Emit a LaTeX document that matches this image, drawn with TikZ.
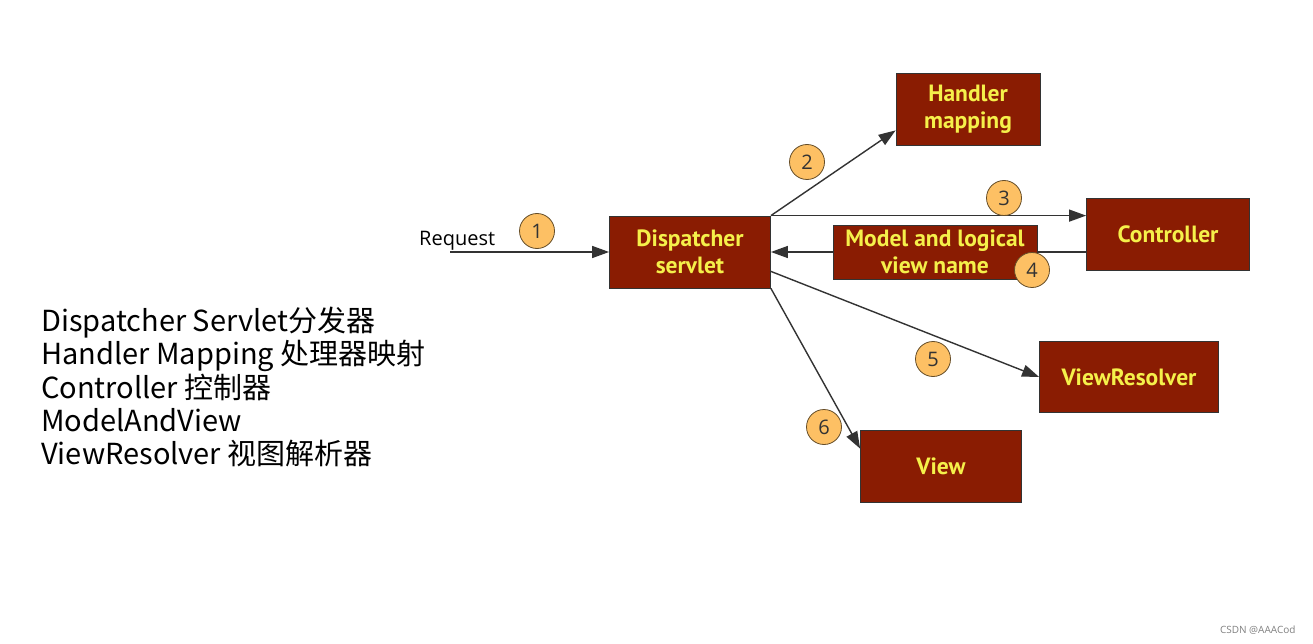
\documentclass[tikz,border=0pt]{standalone}
\usepackage{fontspec}
\setmainfont{Open Sans}
\newfontfamily\cjk{Noto Sans CJK SC}
\newfontfamily\boxfont{PT Sans}
\usetikzlibrary{arrows.meta}
\definecolor{boxred}{HTML}{8A1C02}
\definecolor{boxtext}{HTML}{F5F04A}
\definecolor{numfill}{HTML}{FDC064}
\definecolor{linegray}{HTML}{333333}
\tikzset{
  box/.style={draw=linegray, line width=0.8pt, fill=boxred, text=boxtext, inner sep=0pt,
    font=\boxfont\bfseries\fontsize{23.5}{27}\selectfont, align=center},
  num/.style={circle, draw=black!60!numfill, line width=0.8pt, fill=numfill, minimum size=35pt,
    inner sep=0pt, font=\fontsize{20}{20}\selectfont, text=black!80},
  conn/.style={draw=linegray, line width=1.4pt, -{Triangle[length=17pt,width=12pt]}},
}
\begin{document}
\begin{tikzpicture}[x=1pt,y=-1pt]
\fill[white] (0,0) rectangle (1313,644);
\useasboundingbox (0,0) rectangle (1313,644);

\node[box, minimum width=161pt, minimum height=72pt] (ds) at (690,252) {Dispatcher\\servlet};
\node[box, minimum width=144pt, minimum height=72pt] (hm) at (968,109) {Handler\\mapping};
\node[box, minimum width=163pt, minimum height=72pt] (ctl) at (1168,234) {Controller};
\node[box, minimum width=179pt, minimum height=71pt] (vr) at (1129,377) {ViewResolver};
\node[box, minimum width=161pt, minimum height=72pt] (vw) at (941,466) {View};

\coordinate (rq) at (450,252);
\node[font=\fontsize{20}{22}\selectfont, anchor=base west, inner sep=0pt] (rqt) at (419,245) {Request};

% connectors
\draw[conn] (rq) -- (ds.west);
\draw[conn] (ds.north east) -- ([yshift=15pt]hm.south west);
\draw[conn] (ds.north east) -- (ds.north east -| ctl.west);
\draw[conn] (ctl.west |- ds.east) -- (ds.east);
\draw[conn] ([yshift=17pt]ds.south east) -- (vr.west);
\draw[conn] (ds.south east) -- ([yshift=-19pt]vw.north west);

\node[box, minimum width=204pt, minimum height=54pt] (mv) at (935,252) {\fontsize{23.5}{26}\selectfont Model and logical\\view name};

\node[num] (n1) at (537,231) {1};
\node[num] (n2) at (807,162) {2};
\node[num] (n3) at (1004,198) {3};
\node[num] (n4) at (1032,270) {4};
\node[num] (n5) at (933,359) {5};
\node[num] (n6) at (824,427) {6};

\node[anchor=north west, align=left, font=\cjk\fontsize{29}{33.2}\selectfont, inner sep=0pt] (legend) at (41,307)
{Dispatcher Servlet分发器\\Handler Mapping 处理器映射\\Controller 控制器\\ModelAndView\\ViewResolver 视图解析器};

\node[anchor=east, font=\fontsize{10}{12}\selectfont, text=gray] (wm) at (1299,630) {CSDN @AAACod};
\end{tikzpicture}
\end{document}
